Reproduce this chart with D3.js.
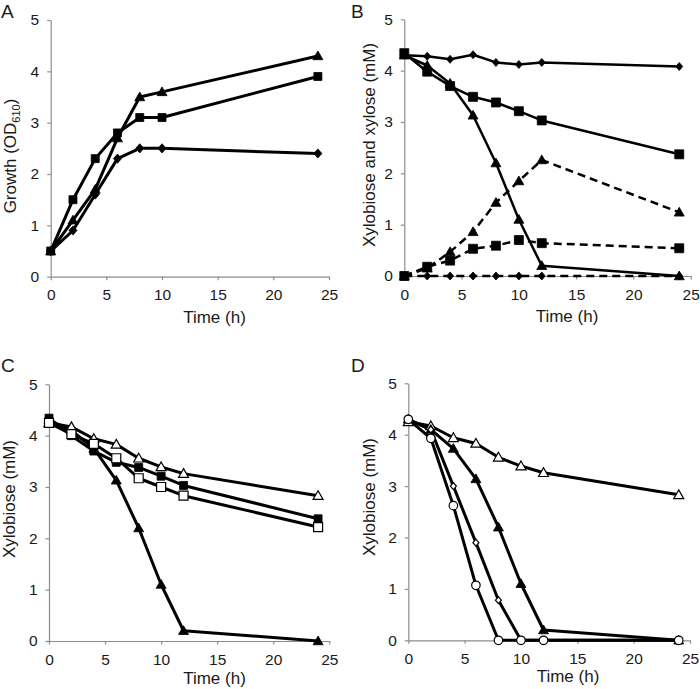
<!DOCTYPE html>
<html><head><meta charset="utf-8">
<script src="https://cdn.jsdelivr.net/npm/d3@7"></script>
<style>body{margin:0;background:#fff}svg{display:block}text{font-family:"Liberation Sans",Arial,sans-serif}</style>
</head><body>
<svg id="c" width="700" height="689"></svg>
<script>
const xTicks = [0,5,10,15,20,25];
const yTicks = [0,1,2,3,4,5];
const time = [0,2,4,6,8,10,12,24];
const timeA = [0,2,4,6,8,10,24];

// Panel A: growth
const aTriangle = [0.5,1.1,1.7,2.7,3.5,3.6,4.3];
const aSquare   = [0.5,1.5,2.3,2.8,3.1,3.1,3.9];
const aDiamond  = [0.5,0.9,1.6,2.3,2.5,2.5,2.4];

// Panel B: xylobiose (solid) and xylose (dashed)
const bDiamondSolid  = [4.3,4.28,4.22,4.31,4.16,4.12,4.16,4.08];
const bSquareSolid   = [4.34,3.98,3.7,3.49,3.38,3.21,3.03,2.37];
const bTriangleSolid = [4.3,4.1,3.75,3.13,2.2,1.1,0.2,0];
const bTriangleDash  = [0,0.15,0.47,0.86,1.43,1.85,2.26,1.24];
const bSquareDash    = [0,0.18,0.3,0.53,0.59,0.7,0.64,0.54];
const bDiamondDash   = [0,0,0,0,0,0,0,0];

// Panel C
const cFilledTriangle = [4.3,4.1,3.75,3.13,2.2,1.1,0.2,0];
const cFilledSquare   = [4.34,4.0,3.7,3.48,3.38,3.21,3.03,2.38];
const cOpenSquare     = [4.25,4.03,3.84,3.56,3.17,3.0,2.83,2.22];
const cOpenTriangle   = [4.25,4.17,3.94,3.83,3.56,3.39,3.26,2.83];

// Panel D
const dOpenTriangle   = [4.25,4.17,3.94,3.83,3.56,3.39,3.26,2.83];
const dFilledTriangle = [4.3,4.1,3.73,3.14,2.2,1.1,0.2,0];
const dOpenDiamond    = [4.3,4.1,3.0,1.9,0.78,0,0,0];
const dOpenCircle     = [4.3,3.93,2.62,1.07,0,0,0,0];

const svg = d3.select("#c");

const panels = [
  {letter:"A", lx:1, ly:18, left:50.7, right:329, top:20, bottom:276.7, ylab:"Growth (OD", sub:"610", ylx:16, yly:156, xlx:214.5, xly:323, lw:3,
   series:[
    {t:timeA, v:aDiamond, m:"diamond", fill:"#000", size:8},
    {t:timeA, v:aSquare, m:"square", fill:"#000", size:8},
    {t:timeA, v:aTriangle, m:"triangle", fill:"#000", size:10}
   ]},
  {letter:"B", lx:351, ly:18, left:404.3, right:690.7, top:19.3, bottom:276, ylab:"Xylobiose and xylose (mM)", ylx:375, yly:145, xlx:567, xly:322, lw:2.5,
   series:[
    {t:time, v:bDiamondDash, m:"diamond", fill:"#000", size:7, dash:"8,5"},
    {t:time, v:bSquareDash, m:"square", fill:"#000", size:9, dash:"8,5"},
    {t:time, v:bTriangleDash, m:"triangle", fill:"#000", size:10, dash:"8,5"},
    {t:time, v:bDiamondSolid, m:"diamond", fill:"#000", size:7},
    {t:time, v:bSquareSolid, m:"square", fill:"#000", size:9},
    {t:time, v:bTriangleSolid, m:"triangle", fill:"#000", size:10}
   ]},
  {letter:"C", lx:1, ly:372, left:49, right:329.3, top:384.3, bottom:641, ylab:"Xylobiose (mM)", ylx:15, yly:499, xlx:214.5, xly:684, lw:3,
   series:[
    {t:time, v:cFilledTriangle, m:"triangle", fill:"#000", size:10},
    {t:time, v:cOpenTriangle, m:"triangle", fill:"#fff", size:10},
    {t:time, v:cFilledSquare, m:"square", fill:"#000", size:8},
    {t:time, v:cOpenSquare, m:"square", fill:"#fff", size:9}
   ]},
  {letter:"D", lx:351, ly:372, left:408.3, right:690, top:383.3, bottom:640.3, ylab:"Xylobiose (mM)", ylx:375, yly:497, xlx:568, xly:682, lw:3,
   series:[
    {t:time, v:dOpenTriangle, m:"triangle", fill:"#fff", size:10},
    {t:time, v:dFilledTriangle, m:"triangle", fill:"#000", size:10},
    {t:time, v:dOpenDiamond, m:"diamond", fill:"#fff", size:6},
    {t:time, v:dOpenCircle, m:"circle", fill:"#fff", size:8.5}
   ]}
];

function markerPath(m, s){
  const h = s/2;
  if(m==="square") return `M${-h},${-h}H${h}V${h}H${-h}Z`;
  if(m==="diamond") return `M0,${-h*1.15}L${h},0L0,${h*1.15}L${-h},0Z`;
  if(m==="triangle") return `M0,${-h}L${h*1.0},${h*0.75}L${-h*1.0},${h*0.75}Z`;
  if(m==="circle") return d3.symbol(d3.symbolCircle, Math.PI*h*h)();
}

panels.forEach(p=>{
  const g = svg.append("g");
  const x = d3.scaleLinear().domain([0,25]).range([p.left,p.right]);
  const y = d3.scaleLinear().domain([0,5]).range([p.bottom,p.top]);

  // axes
  const xa = g.append("g").attr("transform",`translate(0,${p.bottom})`)
    .call(d3.axisBottom(x).tickValues(xTicks).tickFormat(d3.format("d")).tickSize(3.5).tickSizeOuter(0).tickPadding(9));
  const ya = g.append("g").attr("transform",`translate(${p.left},0)`)
    .call(d3.axisLeft(y).tickValues(yTicks).tickFormat(d3.format("d")).tickSize(3.5).tickSizeOuter(0).tickPadding(8));
  [xa,ya].forEach(a=>{
    a.select(".domain").attr("stroke","#8c8c8c").attr("stroke-width",1.2);
    a.selectAll(".tick line").attr("stroke","#8c8c8c").attr("stroke-width",1.2);
    a.selectAll(".tick text").attr("fill","#1a1a1a").style("font-size","15.5px")
     .style("font-family",'"Liberation Sans",Arial,sans-serif');
  });

  // labels
  g.append("text").attr("x",p.lx).attr("y",p.ly).text(p.letter)
    .attr("fill","#1a1a1a").style("font-size","19px");
  g.append("text").attr("x",p.xlx).attr("y",p.xly).attr("text-anchor","middle")
    .attr("fill","#1a1a1a").style("font-size","17px").text("Time (h)");
  const yl = g.append("text")
    .attr("transform",`translate(${p.ylx},${p.yly}) rotate(-90)`)
    .attr("text-anchor","middle").attr("fill","#1a1a1a").style("font-size","17px");
  yl.append("tspan").text(p.ylab);
  if(p.sub){
    yl.append("tspan").attr("dy",4).style("font-size","11px").text(p.sub);
    yl.append("tspan").attr("dy",-4).text(")");
  }

  const line = d3.line().x(d=>x(d[0])).y(d=>y(d[1]));
  p.series.forEach(s=>{
    const pts = s.t.map((t,i)=>[t,s.v[i]]);
    g.append("path").datum(pts).attr("d",line).attr("fill","none")
      .attr("stroke","#000").attr("stroke-width",p.lw)
      .attr("stroke-linejoin","round")
      .attr("stroke-dasharray",s.dash||null);
  });
  p.series.forEach(s=>{
    const pts = s.t.map((t,i)=>[t,s.v[i]]);
    g.selectAll(null).data(pts).enter().append("path")
      .attr("transform",d=>`translate(${x(d[0])},${y(d[1])})`)
      .attr("d",markerPath(s.m,s.size))
      .attr("fill",s.fill).attr("stroke","#000")
      .attr("stroke-width",s.fill==="#fff"?1.2:0.8);
  });
});
</script>
</body></html>
